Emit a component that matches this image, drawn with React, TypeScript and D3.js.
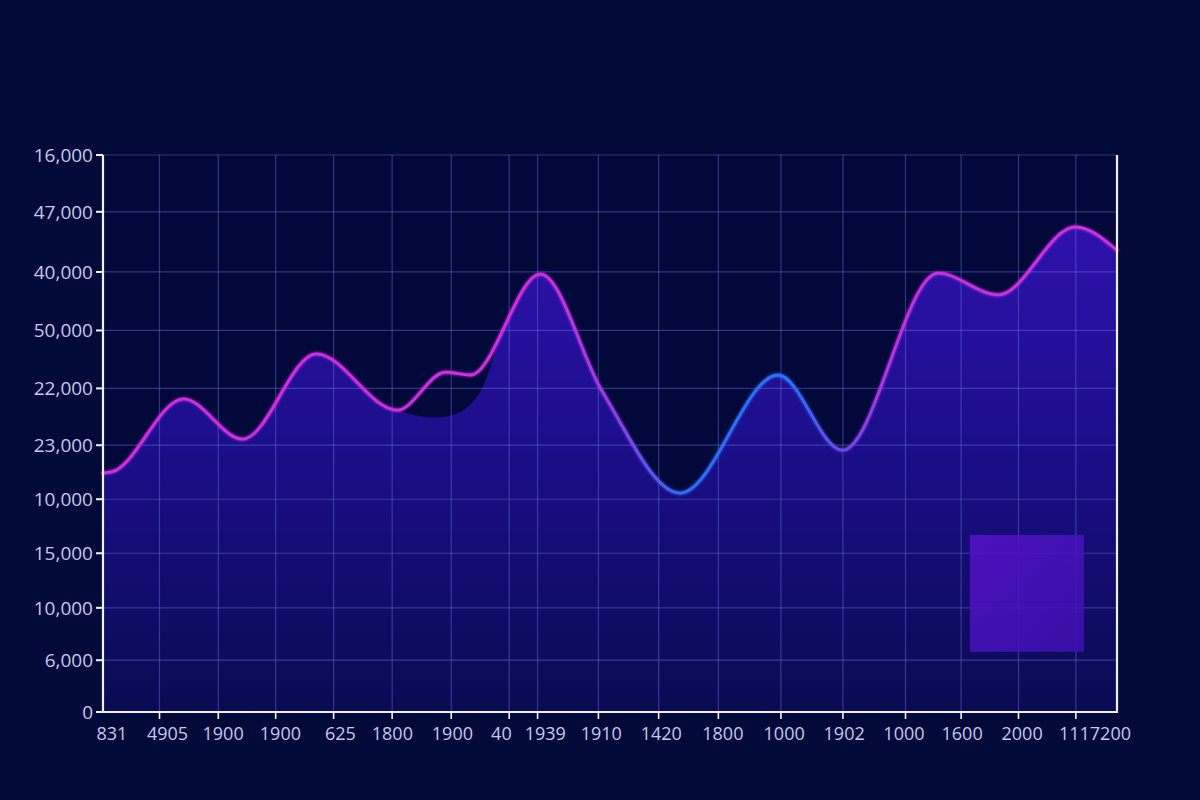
import React from "react";
import * as d3 from "d3";

// ---- data ----
const xTickLabels = ["831", "4905", "1900", "1900", "625", "1800", "1900", "40", "1939", "1910", "1420", "1800", "1000", "1902", "1000", "1600", "2000", "1117200"];
const xTickValues = [0, 0.975, 1.99, 2.98, 3.98, 4.99, 6.01, 7.01, 7.5, 8.55, 9.59, 10.62, 11.7, 12.77, 13.85, 14.81, 15.8, 16.79];
const xLabelValues = [0.155, 1.113, 2.073, 3.062, 4.097, 4.994, 6.03, 6.876, 7.633, 8.6, 9.634, 10.698, 11.756, 12.791, 13.823, 14.827, 15.862, 17.12];
const yTickLabels = ["0", "6,000", "10,000", "15,000", "10,000", "23,000", "22,000", "50,000", "40,000", "47,000", "16,000"];
const yTickValues = [0, 0.93, 1.87, 2.85, 3.82, 4.79, 5.81, 6.85, 7.9, 8.98, 10];

// series (turning points of the curve)
const lineX = [0, 0.15, 1.39, 2.41, 3.68, 5.08, 5.91, 6.34, 7.55, 8.62, 9.96, 11.65, 12.76, 14.41, 15.45, 16.78, 17.5];
const lineValues = [4.29, 4.31, 5.62, 4.9, 6.43, 5.42, 6.1, 6.05, 7.86, 5.75, 3.93, 6.05, 4.7, 7.88, 7.49, 8.71, 8.29];

// lower edge of the unfilled notch under the curve
const gapX = [5.08, 5.48, 5.91, 6.25, 6.51, 6.72, 6.84];
const gapValues = [5.42, 5.31, 5.3, 5.44, 5.75, 6.3, 6.75];

// legend swatch extent (in data units)
const swatchX = [14.96, 16.93];
const swatchV = [1.08, 3.18];

export default function App() {
  const W = 1200;
  const H = 800;
  const left = 103, right = 1117, top = 155, bottom = 712;
  const x = d3.scaleLinear().domain([0, 17.5]).range([left, right]);
  const y = d3.scaleLinear().domain([0, 10]).range([bottom, top]);

  const linePts = lineX.map((v, i) => [v, lineValues[i]] as [number, number]);
  const gapPts = gapX.map((v, i) => [v, gapValues[i]] as [number, number]);

  const curve = d3.curveMonotoneX;
  const lineGen = d3.line<[number, number]>().x(d => x(d[0])).y(d => y(d[1])).curve(curve);
  const areaGen = d3.area<[number, number]>().x(d => x(d[0])).y0(y(0)).y1(d => y(d[1])).curve(curve);
  const gapGen = d3.area<[number, number]>().x(d => x(d[0])).y0(y(10)).y1(d => y(d[1])).curve(d3.curveCatmullRom.alpha(0.5));

  const plotBg = "#02083a";
  const labelColor = "#c3c8ee";
  const gridColor = "rgba(110,120,220,0.42)";
  const font = "'Open Sans', Roboto, sans-serif";

  return (
    <svg width={W} height={H} style={{ display: "block", position: "absolute", left: 0, top: 0 }}>
      <defs>
        <linearGradient id="areaGrad" gradientUnits="userSpaceOnUse" x1="0" y1={y(8.7)} x2="0" y2={bottom}>
          <stop offset="0" stopColor="#2e11ac" />
          <stop offset="0.45" stopColor="#1b0e8a" />
          <stop offset="1" stopColor="#090b52" />
        </linearGradient>
        <linearGradient id="lineGrad" gradientUnits="userSpaceOnUse" x1={left} y1="0" x2={right} y2="0">
          <stop offset="0" stopColor="#cf2fe0" />
          <stop offset="0.44" stopColor="#cf2fe0" />
          <stop offset="0.51" stopColor="#8a40e6" />
          <stop offset="0.57" stopColor="#2f6cf8" />
          <stop offset="0.68" stopColor="#2a72ff" />
          <stop offset="0.73" stopColor="#6a48e8" />
          <stop offset="0.78" stopColor="#c032e0" />
          <stop offset="1" stopColor="#d030e0" />
        </linearGradient>
        <linearGradient id="swatchGrad" x1="0" y1="0" x2="1" y2="1">
          <stop offset="0" stopColor="#5412c6" />
          <stop offset="1" stopColor="#3c10ae" />
        </linearGradient>
        <filter id="glow" x="-5%" y="-20%" width="110%" height="140%">
          <feGaussianBlur stdDeviation="1.6" result="b" />
          <feMerge>
            <feMergeNode in="b" />
            <feMergeNode in="SourceGraphic" />
          </feMerge>
        </filter>
      </defs>
      <rect x={0} y={0} width={W} height={H} fill="#020a3a" />
      <rect x={left} y={top} width={right - left} height={bottom - top} fill={plotBg} />

      <path d={areaGen(linePts) || ""} fill="url(#areaGrad)" />
      <path d={gapGen(gapPts) || ""} fill={plotBg} />

      {yTickValues.map((v, i) => (
        <line key={"gy" + i} x1={left} x2={right} y1={y(v)} y2={y(v)} stroke={gridColor} strokeWidth={1.2} />
      ))}
      {xTickValues.map((v, i) => (
        <line key={"gx" + i} x1={x(v)} x2={x(v)} y1={top} y2={bottom} stroke={gridColor} strokeWidth={1.2} />
      ))}

      <path d={lineGen(linePts) || ""} fill="none" stroke="url(#lineGrad)" strokeWidth={2.8} filter="url(#glow)" strokeLinecap="round" />

      <rect
        x={x(swatchX[0])}
        y={y(swatchV[1])}
        width={x(swatchX[1]) - x(swatchX[0])}
        height={y(swatchV[0]) - y(swatchV[1])}
        fill="url(#swatchGrad)"
        opacity={0.88}
      />

      {/* axes */}
      <line x1={left} x2={left} y1={top} y2={bottom + 1} stroke="#eef0ff" strokeWidth={2.2} />
      <line x1={right} x2={right} y1={top} y2={bottom + 1} stroke="#eef0ff" strokeWidth={2.2} />
      <line x1={left - 1} x2={right + 1} y1={bottom} y2={bottom} stroke="#eef0ff" strokeWidth={2.2} />

      {yTickValues.map((v, i) => (
        <g key={"ty" + i}>
          <line x1={left - 7} x2={left} y1={y(v)} y2={y(v)} stroke="#eef0ff" strokeWidth={2} />
          <text x={93} y={y(v)} dy="0.36em" textAnchor="end" fill={labelColor} fontFamily={font} fontSize={19}>
            {yTickLabels[i]}
          </text>
        </g>
      ))}
      {xTickValues.map((v, i) => (
        i === 0 ? null : (
          <line key={"tk" + i} x1={x(v)} x2={x(v)} y1={bottom} y2={bottom + 7} stroke="#eef0ff" strokeWidth={1.6} />
        )
      ))}
      {xLabelValues.map((v, i) => (
        <text
          key={"tx" + i}
          x={x(v)}
          y={740}
          textAnchor="middle"
          fill={labelColor}
          fontFamily={font}
          fontSize={18}
        >
          {xTickLabels[i]}
        </text>
      ))}
    </svg>
  );
}
